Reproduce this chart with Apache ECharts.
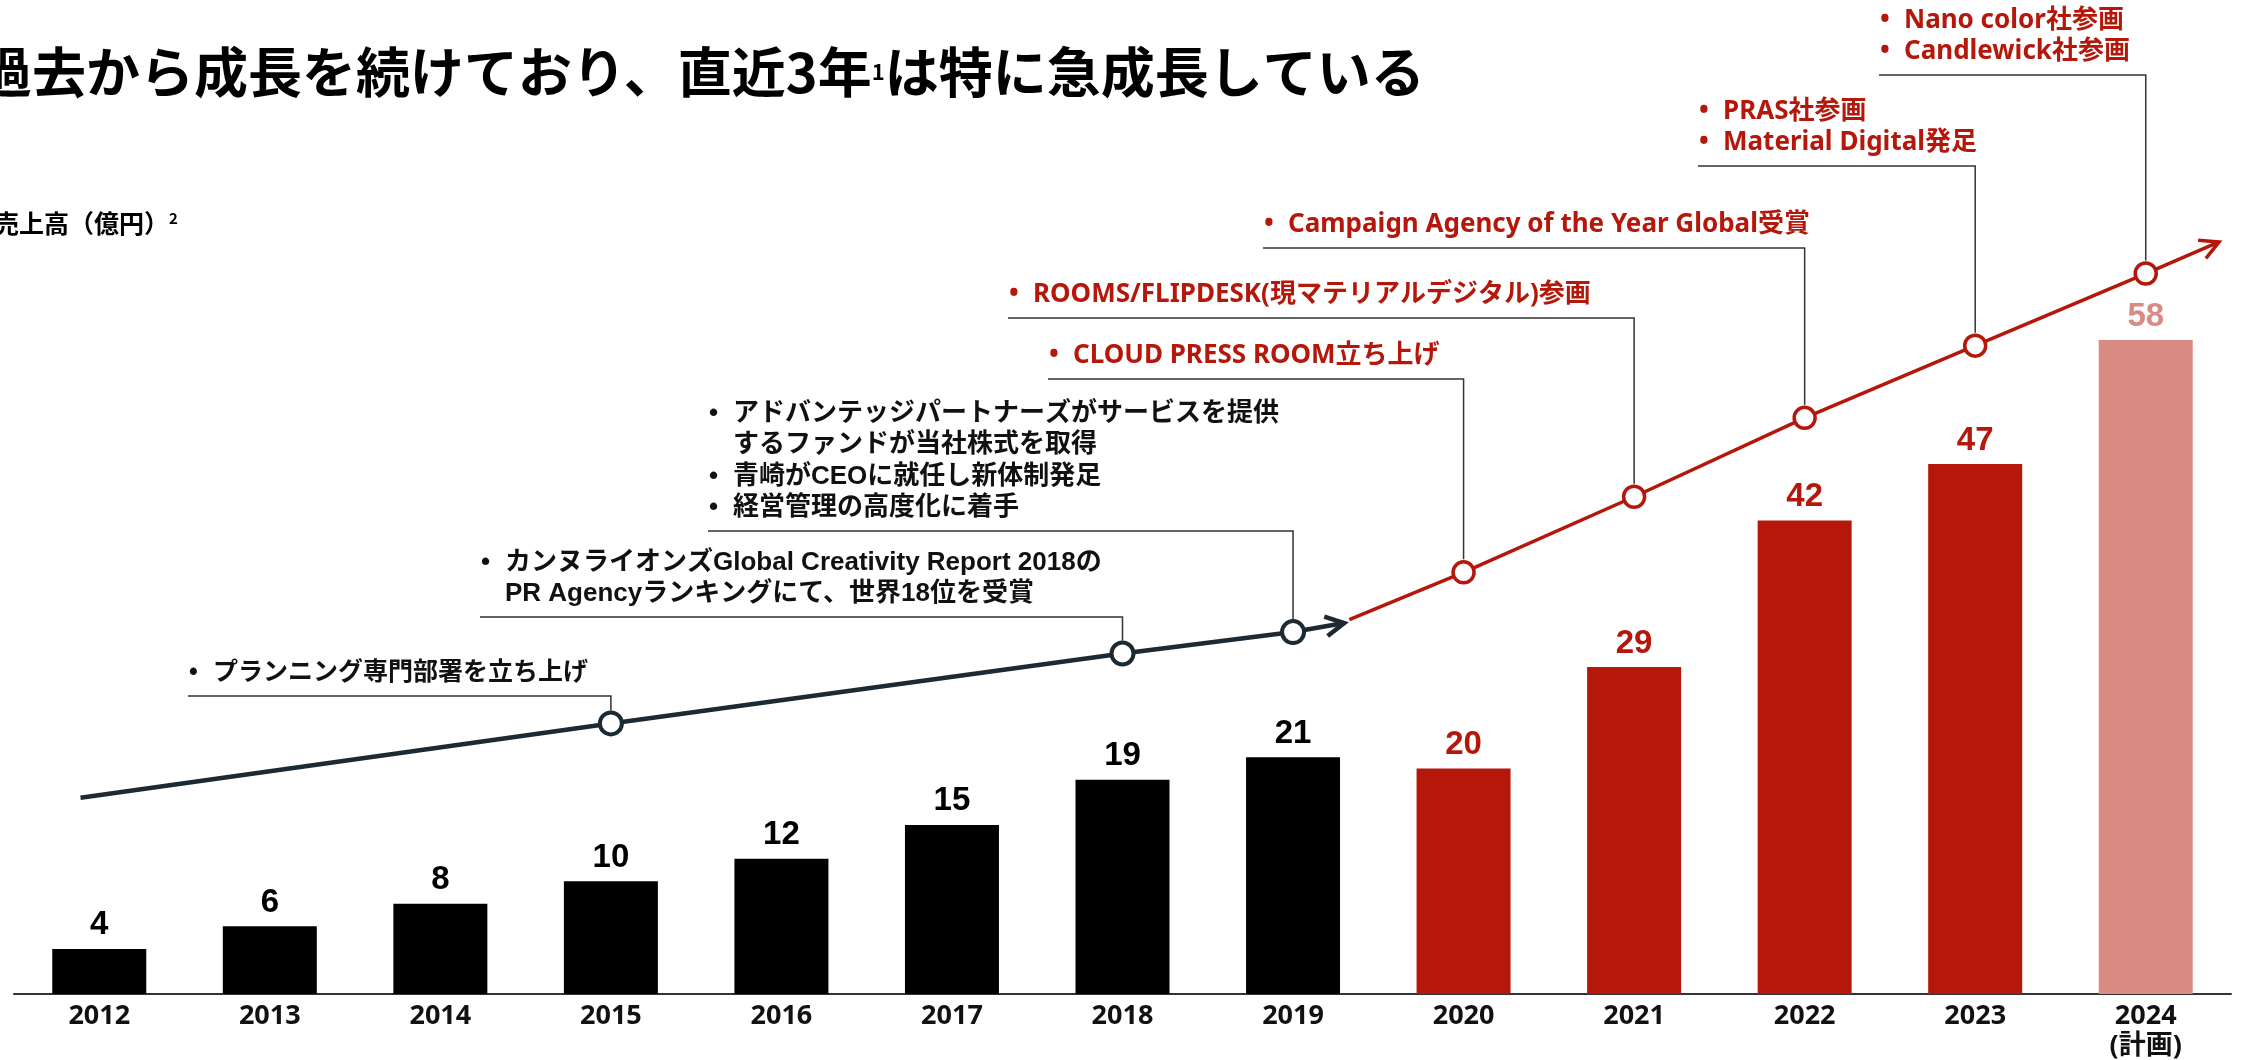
<!DOCTYPE html>
<html>
<head>
<meta charset="utf-8">
<style>
  html, body { margin: 0; padding: 0; background: #fff; }
  #chart { width: 2242px; height: 1060px; }
</style>
<script src="https://cdn.jsdelivr.net/npm/echarts@6.0.0/dist/echarts.min.js"></script>
</head>
<body>
<div id="chart"></div>
<script>
// 年度と売上高（億円）
const years = ['2012', '2013', '2014', '2015', '2016', '2017', '2018', '2019', '2020', '2021', '2022', '2023', '2024'];
const sales = [4, 6, 8, 10, 12, 15, 19, 21, 20, 29, 42, 47, 58];

// 成長トレンドの矢印（x: 年度の位置, y: 売上高と同じ目盛り）
const trendPastX = [-0.11, 3, 6, 7, 7.3];
const trendPastY = [17.4, 24.0, 30.2, 32.1, 32.9];
const trendRecentX = [7.33, 8, 9, 10, 11, 12, 12.43];
const trendRecentY = [33.2, 37.4, 44.1, 51.1, 57.5, 63.9, 66.7];

// 主な出来事
const eventYears = ['2015', '2018', '2019', '2020', '2021', '2022', '2023', '2024'];
const eventTexts = [
    ['• プランニング専門部署を立ち上げ'],
    ['• カンヌライオンズGlobal Creativity Report 2018の', 'PR Agencyランキングにて、世界18位を受賞'],
    ['• アドバンテッジパートナーズがサービスを提供', 'するファンドが当社株式を取得', '• 青崎がCEOに就任し新体制発足', '• 経営管理の高度化に着手'],
    ['• CLOUD PRESS ROOM立ち上げ'],
    ['• ROOMS/FLIPDESK(現マテリアルデジタル)参画'],
    ['• Campaign Agency of the Year Global受賞'],
    ['• PRAS社参画', '• Material Digital発足'],
    ['• Nano color社参画', '• Candlewick社参画']
];

// 見た目の設定
const C_BLACK = '#000000';
const C_DARK = '#1b2a33';
const C_RED = '#b5170b';
const C_PINK = '#d98a82';
const FONT_LATIN = "'Liberation Sans', 'Noto Sans CJK JP', sans-serif";
const FONT_NOTO = "'Noto Sans', 'Noto Sans CJK JP', sans-serif";
const FONT_JP = "'Noto Sans CJK JP', sans-serif";

// 吹き出しの配置（ピクセル）
const calloutLeft = [188, 480, 708, 1048, 1008, 1263, 1698, 1879];
const calloutRuleY = [696, 617, 531, 379, 318, 248, 166, 75];
const calloutFontSize = [25, 26, 26, 26, 26, 26, 26, 26];

function isRecent(year) {
    return Number(year) >= 2020;
}

function barColor(year) {
    if (year === '2024') return C_PINK;
    return isRecent(year) ? C_RED : C_BLACK;
}

function trendData(xs, ys) {
    return xs.map((x, i) => ({
        value: [x, ys[i]],
        symbol: Number.isInteger(x) ? 'circle' : 'none'
    }));
}

function trendLevelAt(x) {
    let i = trendPastX.indexOf(x);
    if (i >= 0) return trendPastY[i];
    i = trendRecentX.indexOf(x);
    return trendRecentY[i];
}

const chart = echarts.init(document.getElementById('chart'));

const option = {
    animation: false,
    grid: { left: 14, right: 11, top: 92, bottom: 66, containLabel: false, outerBoundsMode: 'none' },
    xAxis: [{
        type: 'category',
        data: years,
        axisLine: { lineStyle: { color: '#333', width: 2 } },
        axisTick: { show: false },
        axisLabel: {
            interval: 0,
            margin: 7,
            color: '#111',
            fontFamily: FONT_NOTO,
            fontWeight: 'bold',
            fontSize: 27,
            lineHeight: 30,
            formatter: v => v === '2024' ? '2024\n(計画)' : v
        }
    }, {
        type: 'value',
        min: -0.5,
        max: 12.5,
        show: false
    }],
    yAxis: {
        type: 'value',
        min: 0,
        max: 80,
        show: false
    },
    graphic: [{
        type: 'text',
        x: -22,
        y: 72,
        style: {
            text: '{m|過去から成長を続けており、直近3年}{s|1}{m|は特に急成長している}',
            verticalAlign: 'middle',
            rich: {
                m: { fontSize: 54, fontWeight: 'bold', fontFamily: FONT_JP, fill: '#000' },
                s: { fontSize: 22, fontWeight: 'bold', fontFamily: FONT_JP, fill: '#000' }
            }
        }
    }, {
        type: 'text',
        x: -6,
        y: 223,
        style: {
            text: '{m|売上高（億円）}{s|2}',
            verticalAlign: 'middle',
            rich: {
                m: { fontSize: 25, fontWeight: 'bold', fontFamily: FONT_JP, fill: '#000' },
                s: { fontSize: 15, fontWeight: 'bold', fontFamily: FONT_JP, fill: '#000', verticalAlign: 'top' }
            }
        }
    }],
    series: [{
        type: 'bar',
        xAxisIndex: 0,
        yAxisIndex: 0,
        barWidth: 94,
        data: sales.map((v, i) => ({
            value: v,
            itemStyle: { color: barColor(years[i]) },
            label: { color: barColor(years[i]) }
        })),
        label: {
            show: true,
            position: 'top',
            distance: 7,
            fontFamily: FONT_LATIN,
            fontWeight: 'bold',
            fontSize: 33
        }
    }, {
        type: 'line',
        xAxisIndex: 1,
        yAxisIndex: 0,
        data: trendData(trendPastX, trendPastY),
        showAllSymbol: true,
        symbolSize: 22,
        itemStyle: { color: '#fff', borderColor: C_DARK, borderWidth: 4 },
        lineStyle: { color: C_DARK, width: 4.5 },
        z: 3
    }, {
        type: 'line',
        xAxisIndex: 1,
        yAxisIndex: 0,
        data: trendData(trendRecentX, trendRecentY),
        showAllSymbol: true,
        symbolSize: 21,
        itemStyle: { color: '#fff', borderColor: C_RED, borderWidth: 3.5 },
        lineStyle: { color: C_RED, width: 3.5 },
        z: 3
    }, {
        // 矢印の先端
        type: 'custom',
        xAxisIndex: 1,
        yAxisIndex: 0,
        clip: false,
        silent: true,
        z: 4,
        data: [
            [trendPastX.at(-1), trendPastY.at(-1), trendPastX.at(-2), trendPastY.at(-2), 0],
            [trendRecentX.at(-1), trendRecentY.at(-1), trendRecentX.at(-2), trendRecentY.at(-2), 1]
        ],
        renderItem(params, api) {
            const tip = api.coord([api.value(0), api.value(1)]);
            const prev = api.coord([api.value(2), api.value(3)]);
            const red = api.value(4) === 1;
            const ang = Math.atan2(prev[1] - tip[1], prev[0] - tip[0]);
            const len = 21;
            const spread = 28 * Math.PI / 180;
            return {
                type: 'polyline',
                shape: {
                    points: [
                        [tip[0] + len * Math.cos(ang + spread), tip[1] + len * Math.sin(ang + spread)],
                        tip,
                        [tip[0] + len * Math.cos(ang - spread), tip[1] + len * Math.sin(ang - spread)]
                    ]
                },
                style: { stroke: red ? C_RED : C_DARK, lineWidth: red ? 3.5 : 4.5, fill: null }
            };
        }
    }, {
        // 出来事の吹き出し
        type: 'custom',
        xAxisIndex: 1,
        yAxisIndex: 0,
        clip: false,
        silent: true,
        z: 2,
        data: eventYears.map(y => {
            const x = years.indexOf(y);
            return [x, trendLevelAt(x)];
        }),
        renderItem(params, api) {
            const i = params.dataIndex;
            const pt = api.coord([api.value(0), api.value(1)]);
            const left = calloutLeft[i];
            const ruleY = calloutRuleY[i];
            const fs = calloutFontSize[i];
            const recent = isRecent(eventYears[i]);
            const color = recent ? C_RED : '#111';
            const font = 'bold ' + fs + 'px ' + (recent ? FONT_NOTO : FONT_LATIN);
            const lines = eventTexts[i];
            const children = [{
                type: 'polyline',
                shape: { points: [[left, ruleY], [pt[0], ruleY], [pt[0], pt[1] - 13]] },
                style: { stroke: '#333', lineWidth: 1.5, fill: null }
            }];
            lines.forEach((line, j) => {
                const cy = ruleY - 23 - (lines.length - 1 - j) * 31.5;
                let t = line;
                if (line.startsWith('• ')) {
                    t = line.slice(2);
                    children.push({
                        type: 'text', x: left + 1, y: cy,
                        style: { text: '•', fill: color, font: font, align: 'left', verticalAlign: 'middle' }
                    });
                }
                children.push({
                    type: 'text', x: left + 25, y: cy,
                    style: { text: t, fill: color, font: font, align: 'left', verticalAlign: 'middle' }
                });
            });
            return { type: 'group', children: children };
        }
    }]
};

chart.setOption(option);
window.addEventListener('resize', () => chart.resize());
</script>
</body>
</html>
